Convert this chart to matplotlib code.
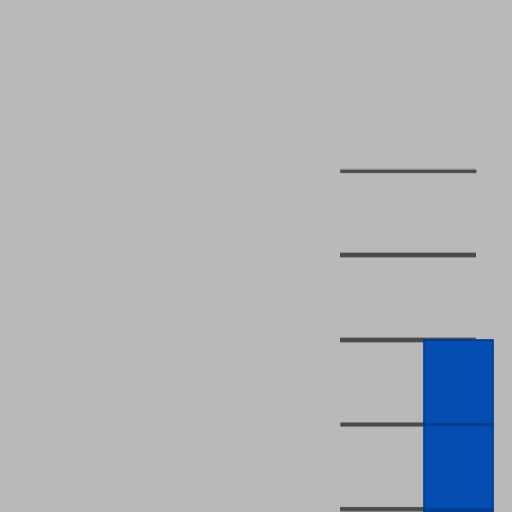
import matplotlib
matplotlib.use('Agg')
import matplotlib.pyplot as plt

# gridline levels and the single visible bar
grid_levels = [0, 10, 20, 30, 40]
bar_pos = [0]
bar_vals = [20]
bar_base = -0.4

fig = plt.figure(figsize=(5.12, 5.12), dpi=100)
fig.patch.set_facecolor('#b9b9b9')
ax = fig.add_axes([0, 0, 1, 1])
ax.set_facecolor('#b9b9b9')

ax.set_xlim(-6.645, 0.775)
ax.set_ylim(-0.36, 60.24)

# gridlines (only cover the plot wall part)
lws = [2.6, 2.4, 2.8, 2.8, 2.0]
for g, lw in zip(grid_levels, lws):
    ax.hlines(g, -1.717, 0.254, color='#858585', lw=lw + 1.2, zorder=1)
    ax.hlines(g, -1.717, 0.254, color='#4a4a4a', lw=lw, zorder=2)

heights = [v - bar_base for v in bar_vals]
ax.bar(bar_pos, heights, bottom=bar_base, width=1.0, color='#054cb0',
       edgecolor='#003a8e', linewidth=1.2, zorder=3)

# shading of gridlines across the bar
for x, v in zip(bar_pos, bar_vals):
    for g in grid_levels:
        if g < v:
            ax.hlines(g, x - 0.5, x + 0.5, color='#00347f', lw=2.2, alpha=0.6, zorder=4)

ax.axis('off')
fig.savefig('out.png', dpi=100, facecolor=fig.get_facecolor())
